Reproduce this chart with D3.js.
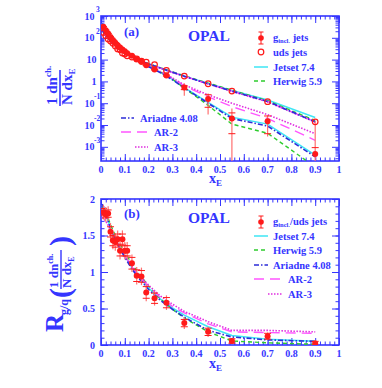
<!DOCTYPE html>
<html>
<head>
<meta charset="utf-8">
<script src="https://cdn.jsdelivr.net/npm/d3@7"></script>
<style>
  body { margin: 0; background: #fff; }
  text { font-family: "Liberation Serif", "Times New Roman", serif; font-weight: bold; fill: #3535ff; }
</style>
</head>
<body>
<svg width="382" height="388"></svg>
<script>
// measured points (bin centres)
const xE = [0.01, 0.02, 0.03, 0.04, 0.05, 0.06, 0.07, 0.08, 0.09, 0.1, 0.11, 0.13, 0.15, 0.17, 0.19, 0.225, 0.275, 0.35, 0.45, 0.55, 0.7, 0.9];
const gIncl = [320, 225, 158, 110, 80, 60, 45, 36, 29, 24, 19.5, 15, 10.3, 7.9, 5.5, 3.5, 1.85, 0.52, 0.155, 0.02, 0.015, 0.00047];
const gErrTot = [12, 8, 6, 4, 3, 2.5, 2, 1.6, 1.4, 1.2, 1, 0.8, 0.6, 0.5, 0.4, 0.3, 0.2, 0.3, 0.125, 0.038, 0.012, 0.0143];
const gErrStat = [6, 4, 3, 2, 1.5, 1.2, 1, 0.8, 0.7, 0.6, 0.5, 0.4, 0.3, 0.25, 0.2, 0.15, 0.1, 0.1, 0.09, 0.016, 0.011, 0.00045];
const uds = [175, 125, 88, 71, 56, 42, 31, 28, 20, 18, 15, 13, 10.8, 8.4, 7.6, 5.9, 3.2, 1.75, 0.78, 0.36, 0.118, 0.014];
const ratio = [1.82, 1.79, 1.8, 1.55, 1.43, 1.41, 1.45, 1.29, 1.45, 1.29, 1.29, 1.12, 0.95, 0.94, 0.72, 0.64, 0.58, 0.3, 0.18, 0.055, 0.12, 0.02];
const ratioErrTot = [0.1, 0.1, 0.1, 0.12, 0.12, 0.12, 0.12, 0.12, 0.12, 0.12, 0.12, 0.12, 0.12, 0.12, 0.12, 0.1, 0.1, 0.08, 0.07, 0.04, 0.05, 0.05];
const ratioErrStat = [0.05, 0.05, 0.05, 0.07, 0.07, 0.07, 0.07, 0.07, 0.07, 0.07, 0.07, 0.08, 0.08, 0.08, 0.08, 0.07, 0.07, 0.05, 0.05, 0.03, 0.04, 0.03];

// Monte Carlo curves
const mcX = [0.005, 0.02, 0.04, 0.06, 0.08, 0.1, 0.13, 0.16, 0.2, 0.25, 0.3, 0.35, 0.45, 0.55, 0.7, 0.9];
const jetsetUds = [230, 125, 72, 44, 29, 20, 13.5, 9.5, 6.3, 4.1, 2.65, 1.75, 0.8, 0.38, 0.14, 0.022];
const herwigUds = [225, 125, 73, 45, 30, 20.5, 13.8, 9.8, 6.5, 4.2, 2.75, 1.8, 0.84, 0.4, 0.13, 0.016];
const ariadneUds = [230, 126, 72, 44, 29, 20, 13.4, 9.4, 6.3, 4.1, 2.65, 1.72, 0.78, 0.36, 0.12, 0.014];
const ar2Uds = [228, 125, 72, 44, 29, 20, 13.5, 9.4, 6.3, 4.1, 2.6, 1.72, 0.77, 0.36, 0.12, 0.014];
const ar3Uds = [226, 124, 72, 44, 29, 20, 13.4, 9.4, 6.2, 4.05, 2.6, 1.7, 0.76, 0.35, 0.115, 0.0135];
const jetsetG = [440, 225, 115, 64, 39, 24.5, 14.3, 8.8, 4.9, 2.6, 1.25, 0.52, 0.11, 0.023, 0.011, 0.00042];
const herwigG = [430, 228, 120, 67, 41, 26, 15.3, 9.3, 5.2, 2.7, 1.3, 0.5, 0.08, 0.011, 0.0042, 0.00012];
const ariadneG = [445, 225, 115, 63, 38, 24, 14, 8.5, 4.7, 2.5, 1.2, 0.5, 0.1, 0.02, 0.009, 0.00035];
const ar2G = [420, 220, 114, 63, 38, 24, 14.2, 8.8, 5, 2.7, 1.4, 0.62, 0.2, 0.07, 0.02, 0.002];
const ar3G = [395, 210, 112, 63, 38.5, 24.6, 14.5, 9, 5.2, 2.8, 1.45, 0.7, 0.24, 0.1, 0.03, 0.004];
const jetsetR = [1.92, 1.8, 1.6, 1.45, 1.33, 1.22, 1.06, 0.93, 0.78, 0.63, 0.51, 0.41, 0.25, 0.13, 0.08, 0.05];
const herwigR = [1.9, 1.82, 1.65, 1.5, 1.38, 1.27, 1.11, 0.97, 0.81, 0.63, 0.49, 0.37, 0.18, 0.055, 0.03, 0.01];
const ariadneR = [1.93, 1.8, 1.6, 1.44, 1.32, 1.2, 1.04, 0.91, 0.76, 0.61, 0.49, 0.38, 0.2, 0.11, 0.07, 0.05];
const ar2R = [1.85, 1.78, 1.6, 1.45, 1.33, 1.22, 1.07, 0.94, 0.8, 0.65, 0.53, 0.44, 0.29, 0.18, 0.17, 0.16];
const ar3R = [1.75, 1.7, 1.57, 1.44, 1.33, 1.23, 1.08, 0.96, 0.82, 0.67, 0.56, 0.46, 0.32, 0.2, 0.2, 0.18];

const xTickLabels = ["0", "0.1", "0.2", "0.3", "0.4", "0.5", "0.6", "0.7", "0.8", "0.9", "1"];
const yTicksA = [3, 2, 1, 0, -1, -2, -3];
const yTicksB = ["0", "0.5", "1", "1.5", "2"];

const svg = d3.select('svg');
const blue = '#3535ff';
const red = '#ff1a1a';
const styles = {
  jetset: { color: '#3ee6f5', dash: null, w: 1.5 },
  herwig: { color: '#2ecc2e', dash: '4,3', w: 1.4 },
  ariadne: { color: '#2c2cd8', dash: '5,2,1.5,2', w: 1.6 },
  ar2: { color: '#ff55ff', dash: '10,6', w: 1.4 },
  ar3: { color: '#e02ee0', dash: '1.5,1.5', w: 1.6 }
};

const x = d3.scaleLinear().domain([0, 1]).range([101, 339]);
const yA = d3.scaleLog().domain([Math.pow(10, -3.65), 1000]).range([161, 16]);
const yB = d3.scaleLinear().domain([0, 2]).range([345, 199]);

const defs = svg.append('defs');
const addClip = (id, y0, y1) => defs.append('clipPath').attr('id', id)
  .append('rect').attr('x', 101).attr('y', y0).attr('width', 238).attr('height', y1 - y0);
addClip('clipA', 16, 161);
addClip('clipB', 199, 345);

const drawFrame = (y, y0, y1, logY) => {
  const g = svg.append('g');
  const majorX = d3.range(0, 11).map(i => i / 10);
  const minorX = d3.range(0, 51).map(i => i / 50);
  const ax = (axis, tr) => {
    const a = g.append('g').attr('transform', tr).call(axis);
    a.select('.domain').remove();
    a.selectAll('line').attr('stroke', blue).attr('stroke-width', 1);
  };
  ax(d3.axisBottom(x).tickValues(minorX).tickSize(-3.5).tickFormat(''), `translate(0,${y1})`);
  ax(d3.axisBottom(x).tickValues(majorX).tickSize(-7).tickFormat(''), `translate(0,${y1})`);
  ax(d3.axisTop(x).tickValues(minorX).tickSize(-3.5).tickFormat(''), `translate(0,${y0})`);
  ax(d3.axisTop(x).tickValues(majorX).tickSize(-7).tickFormat(''), `translate(0,${y0})`);
  let majorY, minorY;
  if (logY) {
    majorY = d3.range(-3, 4).map(e => Math.pow(10, e));
    minorY = [];
    for (let e = -4; e < 3; e++) for (let k = 2; k < 10; k++) {
      const v = k * Math.pow(10, e);
      if (v > y.domain()[0]) minorY.push(v);
    }
  } else {
    majorY = [0, 0.5, 1, 1.5, 2];
    minorY = d3.range(0, 21).map(i => i / 10);
  }
  ax(d3.axisLeft(y).tickValues(minorY).tickSize(-3.5).tickFormat(''), 'translate(101,0)');
  ax(d3.axisLeft(y).tickValues(majorY).tickSize(-7).tickFormat(''), 'translate(101,0)');
  ax(d3.axisRight(y).tickValues(minorY).tickSize(-3.5).tickFormat(''), 'translate(339,0)');
  ax(d3.axisRight(y).tickValues(majorY).tickSize(-7).tickFormat(''), 'translate(339,0)');
  g.append('rect').attr('x', 101).attr('y', y0).attr('width', 238).attr('height', y1 - y0)
    .attr('fill', 'none').attr('stroke', blue).attr('stroke-width', 1.6);
  g.selectAll('.xl').data(xTickLabels).enter().append('text')
    .attr('x', (d, i) => x(i / 10)).attr('y', y1 + 11.5)
    .attr('text-anchor', 'middle').attr('font-size', 10).text(d => d);
};

const line = (y, xs) => d3.line().x((d, i) => x(xs[i])).y(d => y(d));

const drawCurve = (g, y, vals, s) => {
  g.append('path').datum(vals).attr('d', line(y, mcX))
    .attr('fill', 'none').attr('stroke', s.color).attr('stroke-width', s.w)
    .attr('stroke-dasharray', s.dash);
};

const drawErrors = (g, y, vals, tot, stat, floorY) => {
  vals.forEach((v, i) => {
    const px = x(xE[i]);
    const lo = v - tot[i] > 0 ? y(v - tot[i]) : floorY;
    g.append('line').attr('x1', px).attr('x2', px).attr('y1', y(v + tot[i])).attr('y2', lo)
      .attr('stroke', '#ff7070').attr('stroke-width', 1.2);
    [v + stat[i], v - stat[i]].forEach(s => {
      if (s <= 0) return;
      g.append('line').attr('x1', px - 3.5).attr('x2', px + 3.5).attr('y1', y(s)).attr('y2', y(s))
        .attr('stroke', red).attr('stroke-width', 1);
    });
  });
};

// ---------- panel (a)
drawFrame(yA, 16, 161, true);
const ga = svg.append('g').attr('clip-path', 'url(#clipA)');
drawCurve(ga, yA, jetsetUds, styles.jetset);
drawCurve(ga, yA, herwigUds, styles.herwig);
drawCurve(ga, yA, ar2Uds, styles.ar2);
drawCurve(ga, yA, ar3Uds, styles.ar3);
drawCurve(ga, yA, ariadneUds, styles.ariadne);
drawCurve(ga, yA, jetsetG, styles.jetset);
drawCurve(ga, yA, herwigG, styles.herwig);
drawCurve(ga, yA, ar2G, styles.ar2);
drawCurve(ga, yA, ar3G, styles.ar3);
drawCurve(ga, yA, ariadneG, styles.ariadne);
drawErrors(ga, yA, gIncl, gErrTot, gErrStat, 161);
ga.selectAll('.uds').data(uds).enter().append('circle')
  .attr('cx', (d, i) => x(xE[i])).attr('cy', d => yA(d)).attr('r', 2.8)
  .attr('fill', 'none').attr('stroke', red).attr('stroke-width', 1.2);
ga.selectAll('.gi').data(gIncl).enter().append('circle')
  .attr('cx', (d, i) => x(xE[i])).attr('cy', d => yA(d)).attr('r', 3)
  .attr('fill', red);

// y tick labels (a)
yTicksA.forEach(e => {
  const py = yA(Math.pow(10, e));
  if (e === 0 || e === 1) {
    svg.append('text').attr('x', 96.5).attr('y', py + 3.5).attr('text-anchor', 'end')
      .attr('font-size', 10).text(e === 0 ? '1' : '10');
  } else {
    svg.append('text').attr('x', 94.5).attr('y', py + 3.5).attr('text-anchor', 'end')
      .attr('font-size', 10).text('10');
    svg.append('text').attr('x', e < 0 ? 94 : 96).attr('y', py - 4).attr('font-size', 7.5).text(e);
  }
});

// axis titles (a)
svg.append('text').attr('x', 209).attr('y', 183).attr('font-size', 14)
  .html('x<tspan font-size="9" dy="3">E</tspan>');
const ta = svg.append('g').attr('transform', 'translate(60,88) rotate(-90)');
ta.append('text').attr('x', -17).attr('y', -3).attr('font-size', 15)
  .html('1 dn<tspan font-size="9" dy="-6">ch.</tspan>');
ta.append('line').attr('x1', -18).attr('x2', 18).attr('y1', 0).attr('y2', 0)
  .attr('stroke', blue).attr('stroke-width', 1.6);
ta.append('text').attr('x', -17).attr('y', 12).attr('font-size', 15)
  .html('N dx<tspan font-size="9" dy="3">E</tspan>');

svg.append('text').attr('x', 124).attr('y', 36).attr('font-size', 13).text('(a)');
svg.append('text').attr('x', 188).attr('y', 41).attr('font-size', 15.5).text('OPAL');

// legend (a)
const legMarker = (px, py, open) => {
  if (!open) {
    svg.append('line').attr('x1', px).attr('x2', px).attr('y1', py - 6).attr('y2', py + 6)
      .attr('stroke', red).attr('stroke-width', 1);
    [py - 6, py + 6].forEach(cy => svg.append('line').attr('x1', px - 2.5).attr('x2', px + 2.5)
      .attr('y1', cy).attr('y2', cy).attr('stroke', red));
    svg.append('circle').attr('cx', px).attr('cy', py).attr('r', 2.8).attr('fill', red);
  } else {
    svg.append('circle').attr('cx', px).attr('cy', py).attr('r', 2.8)
      .attr('fill', 'none').attr('stroke', red).attr('stroke-width', 1.2);
  }
};
const legLine = (x1, x2, py, s) => svg.append('line').attr('x1', x1).attr('x2', x2)
  .attr('y1', py).attr('y2', py).attr('stroke', s.color).attr('stroke-width', s.w)
  .attr('stroke-dasharray', s.dash);
const legText = (px, py, html) => svg.append('text').attr('x', px).attr('y', py + 3.5)
  .attr('font-size', 10.5).html(html);
const gSub = rest => 'g<tspan font-size="6.5" dy="2">incl.</tspan><tspan dy="-2">' + rest + '</tspan>';

legMarker(261, 38, false);
legText(273, 37, gSub(' jets'));
legMarker(261, 52, true);
legText(273, 52, 'uds jets');
legLine(254, 268, 67, styles.jetset);
legText(273, 67, 'Jetset 7.4');
legLine(254, 268, 81, styles.herwig);
legText(273, 81, 'Herwig 5.9');
legLine(121, 134, 118, styles.ariadne);
legText(140, 118, 'Ariadne 4.08');
legLine(121, 147, 132, styles.ar2);
legText(154, 132, 'AR-2');
legLine(135, 148, 147, styles.ar3);
legText(154, 147, 'AR-3');

// ---------- panel (b)
drawFrame(yB, 199, 345, false);
const gb = svg.append('g').attr('clip-path', 'url(#clipB)');
drawCurve(gb, yB, jetsetR, styles.jetset);
drawCurve(gb, yB, herwigR, styles.herwig);
drawCurve(gb, yB, ar2R, styles.ar2);
drawCurve(gb, yB, ar3R, styles.ar3);
drawCurve(gb, yB, ariadneR, styles.ariadne);
drawErrors(gb, yB, ratio, ratioErrTot, ratioErrStat, 345);
gb.selectAll('.r').data(ratio).enter().append('circle')
  .attr('cx', (d, i) => x(xE[i])).attr('cy', d => yB(d)).attr('r', 3)
  .attr('fill', red);

yTicksB.forEach(t => {
  svg.append('text').attr('x', 95).attr('y', yB(+t) + 3.5).attr('text-anchor', 'end')
    .attr('font-size', 10).text(t);
});

svg.append('text').attr('x', 209).attr('y', 368).attr('font-size', 14)
  .html('x<tspan font-size="9" dy="3">E</tspan>');
const tb = svg.append('g').attr('transform', 'translate(62,290) rotate(-90)');
tb.append('text').attr('x', -42).attr('y', 1).attr('font-size', 25).text('R');
tb.append('text').attr('x', -25).attr('y', 6).attr('font-size', 12).text('g/q');
tb.append('text').attr('x', -8).attr('y', 8).attr('font-size', 30).attr('font-weight', 'normal').text('(');
tb.append('text').attr('x', 2).attr('y', -4).attr('font-size', 13)
  .html('1 dn<tspan font-size="8" dy="-5">ch.</tspan>');
tb.append('line').attr('x1', 1).attr('x2', 40).attr('y1', -1).attr('y2', -1)
  .attr('stroke', blue).attr('stroke-width', 1.4);
tb.append('text').attr('x', 2).attr('y', 9).attr('font-size', 13)
  .html('N dx<tspan font-size="8" dy="3">E</tspan>');
tb.append('text').attr('x', 44).attr('y', 8).attr('font-size', 30).attr('font-weight', 'normal').text(')');

svg.append('text').attr('x', 124).attr('y', 218).attr('font-size', 13).text('(b)');
svg.append('text').attr('x', 188).attr('y', 223).attr('font-size', 15.5).text('OPAL');

legMarker(261, 222, false);
legText(273, 221, gSub('/uds jets'));
legLine(254, 268, 236, styles.jetset);
legText(273, 236, 'Jetset 7.4');
legLine(254, 268, 250, styles.herwig);
legText(273, 250, 'Herwig 5.9');
legLine(254, 268, 265, styles.ariadne);
legText(273, 265, 'Ariadne 4.08');
legLine(254, 283, 279, styles.ar2);
legText(288, 279, 'AR-2');
legLine(268, 283, 294, styles.ar3);
legText(288, 294, 'AR-3');
</script>
</body>
</html>
